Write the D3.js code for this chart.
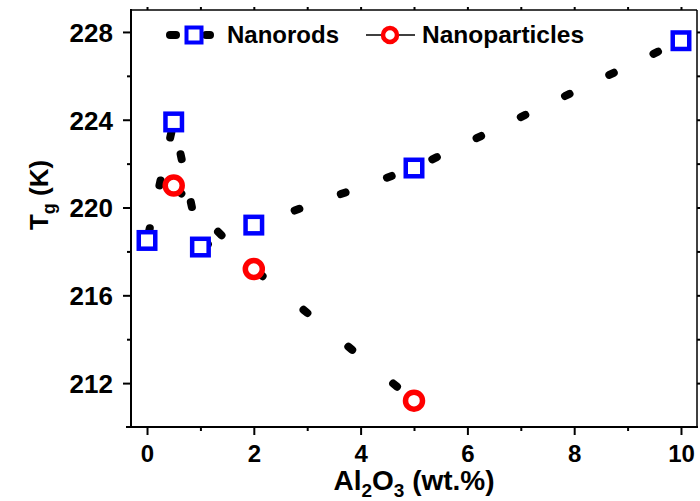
<!DOCTYPE html>
<html><head><meta charset="utf-8">
<script src="https://cdn.jsdelivr.net/npm/d3@7"></script>
<style>
html,body{margin:0;padding:0;background:#fff;}
text{font-family:"Liberation Sans",Arial,sans-serif;font-weight:bold;fill:#000;}
</style></head>
<body><svg id="c" width="700" height="501"></svg>
<script>
// ---- data ----
const rodsX = [0, 0.5, 1, 2, 5, 10];
const rodsY = [218.5, 223.9, 218.2, 219.2, 221.8, 227.6];
const partX = [0.5, 2, 5];
const partY = [221.0, 217.2, 211.2];
const xTicks = [0, 2, 4, 6, 8, 10];
const yTicks = [212, 216, 220, 224, 228];
const seriesNames = ["Nanorods", "Nanoparticles"];

const svg = d3.select("#c");
const L = 131, R = 697, T = 10, B = 427;
const x = d3.scaleLinear().domain([-0.3, 10.3]).range([L, R]);
const y = d3.scaleLinear().domain([210, 229]).range([B, T]);

// ---- axes ----
const axG = svg.append("g");
function styleAxis(g){
  g.selectAll("path.domain").remove();
  g.selectAll("line").attr("stroke","#000").attr("stroke-width",2);
}
const xMinor = d3.range(0, 10.01, 1);
const yMinor = d3.range(212, 228.01, 2);
// bottom
const gb = axG.append("g").attr("transform",`translate(0,${B})`)
  .call(d3.axisBottom(x).tickValues(xMinor).tickSize(8).tickFormat(""));
styleAxis(gb);
gb.selectAll(".tick line").attr("y2", d => xTicks.includes(d) ? 8 : 4);
gb.selectAll(".tick").filter(d => xTicks.includes(d)).append("text")
  .attr("y", 35).attr("text-anchor","middle").style("font-size","24px")
  .text(d => d);
// left
const gl = axG.append("g").attr("transform",`translate(${L},0)`)
  .call(d3.axisLeft(y).tickValues(yMinor).tickSize(8).tickFormat(""));
styleAxis(gl);
gl.selectAll(".tick line").attr("x2", d => yTicks.includes(d) ? -8 : -4);
gl.selectAll(".tick").filter(d => yTicks.includes(d)).append("text")
  .attr("x", -18).attr("dy","0.36em").attr("text-anchor","end").style("font-size","26px")
  .text(d => d);
// top
const gt = axG.append("g").attr("transform",`translate(0,${T})`)
  .call(d3.axisTop(x).tickValues(xMinor).tickSize(3).tickFormat(""));
styleAxis(gt);
// right
const gr = axG.append("g").attr("transform",`translate(${R},0)`)
  .call(d3.axisRight(y).tickValues(yMinor).tickSize(3).tickFormat(""));
styleAxis(gr);
// frame lines
axG.append("line").attr("x1",L-5).attr("x2",R+1).attr("y1",B).attr("y2",B).attr("stroke","#000").attr("stroke-width",2);
axG.append("line").attr("x1",L).attr("x2",L).attr("y1",T-1).attr("y2",B+1).attr("stroke","#000").attr("stroke-width",2);
axG.append("line").attr("x1",L).attr("x2",R).attr("y1",T).attr("y2",T).attr("stroke","#000").attr("stroke-width",1.5);
axG.append("line").attr("x1",R).attr("x2",R).attr("y1",T).attr("y2",B).attr("stroke","#000").attr("stroke-width",1.5);

// ---- axis titles ----
const xt = svg.append("text").attr("x", 414).attr("y", 490).attr("text-anchor","middle").style("font-size","28px");
xt.append("tspan").text("Al");
xt.append("tspan").attr("dy", 7).style("font-size","19px").text("2");
xt.append("tspan").attr("dy", -7).text("O");
xt.append("tspan").attr("dy", 7).style("font-size","19px").text("3");
xt.append("tspan").attr("dy", -7).text(" (wt.%)");

const yt = svg.append("text").attr("transform","translate(48,195) rotate(-90)").attr("text-anchor","middle").style("font-size","26px");
yt.append("tspan").text("T");
yt.append("tspan").attr("dy", 7).style("font-size","18px").text("g");
yt.append("tspan").attr("dy", -7).text(" (K)");

// ---- lines ----
const line = d3.line().x(d => x(d[0])).y(d => y(d[1]));
const rods = rodsX.map((v,i) => [v, rodsY[i]]);
const parts = partX.map((v,i) => [v, partY[i]]);
svg.append("path").datum(rods).attr("d", line).attr("fill","none").attr("stroke","#000")
  .attr("stroke-width",8).attr("stroke-linecap","round").attr("stroke-dasharray","5,44").attr("stroke-dashoffset",-7.5);
svg.append("path").datum(parts).attr("d", line).attr("fill","none").attr("stroke","#000")
  .attr("stroke-width",8).attr("stroke-linecap","round").attr("stroke-dasharray","5,53").attr("stroke-dashoffset",-6);

// ---- markers ----
const sq = 16.5;
svg.append("g").selectAll("rect").data(rods).join("rect")
  .attr("x", d => x(d[0]) - sq/2).attr("y", d => y(d[1]) - sq/2)
  .attr("width", sq).attr("height", sq)
  .attr("fill","#fff").attr("stroke","#0000ff").attr("stroke-width",4.5);
svg.append("g").selectAll("circle").data(parts).join("circle")
  .attr("cx", d => x(d[0])).attr("cy", d => y(d[1])).attr("r", 8.5)
  .attr("fill","#fff").attr("stroke","#ff0000").attr("stroke-width",5.5);

// ---- legend ----
const lg = svg.append("g");
const ly = 35;
lg.append("line").attr("x1",170).attr("x2",176).attr("y1",ly).attr("y2",ly)
  .attr("stroke","#000").attr("stroke-width",8).attr("stroke-linecap","round");
lg.append("line").attr("x1",206).attr("x2",210).attr("y1",ly).attr("y2",ly)
  .attr("stroke","#000").attr("stroke-width",8).attr("stroke-linecap","round");
lg.append("rect").attr("x",194-7.5).attr("y",ly-7.5).attr("width",15).attr("height",15)
  .attr("fill","#fff").attr("stroke","#0000ff").attr("stroke-width",4);
lg.append("text").attr("x",227).attr("y",ly+8).style("font-size","24px").text(seriesNames[0]);
lg.append("line").attr("x1",366).attr("x2",415).attr("y1",ly).attr("y2",ly)
  .attr("stroke","#000").attr("stroke-width",1.5);
lg.append("circle").attr("cx",390).attr("cy",ly).attr("r",7)
  .attr("fill","#fff").attr("stroke","#ff0000").attr("stroke-width",4.5);
lg.append("text").attr("x",422).attr("y",ly+8).style("font-size","24.5px").text(seriesNames[1]);
</script></body></html>
